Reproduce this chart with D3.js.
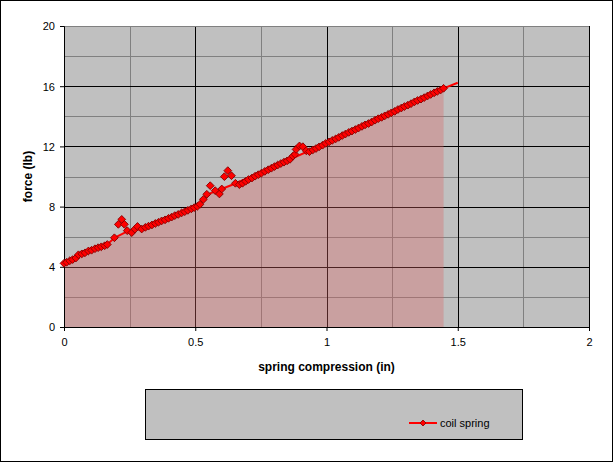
<!DOCTYPE html>
<html>
<head>
<meta charset="utf-8">
<script src="https://cdn.jsdelivr.net/npm/d3@7"></script>
<style>
  html, body { margin: 0; padding: 0; background: #fff; }
  svg { display: block; font-family: Arial, "Liberation Sans", sans-serif; }
</style>
</head>
<body>
<svg id="chart" width="613" height="462"></svg>
<script>
// ---- data ----
const compression = [
  0.000, 0.010, 0.022, 0.033, 0.045, 0.055, 0.068, 0.080, 0.093, 0.105,
  0.118, 0.130, 0.142, 0.155, 0.165, 0.192, 0.207, 0.220, 0.230, 0.241,
  0.258, 0.270, 0.280, 0.296, 0.310, 0.322, 0.335, 0.348, 0.360, 0.372,
  0.385, 0.398, 0.410, 0.422, 0.435, 0.448, 0.460, 0.472, 0.485, 0.496,
  0.508, 0.518, 0.531, 0.544, 0.557, 0.576, 0.592, 0.601, 0.611, 0.624,
  0.638, 0.653, 0.668, 0.680, 0.692, 0.703, 0.716, 0.728, 0.740, 0.752,
  0.765, 0.778, 0.790, 0.802, 0.814, 0.826, 0.838, 0.850, 0.861, 0.872,
  0.880, 0.884, 0.897, 0.910, 0.923, 0.935, 0.948, 0.960, 0.972, 0.985,
  0.997, 1.010, 1.022, 1.035, 1.047, 1.060, 1.072, 1.085, 1.097, 1.110,
  1.122, 1.135, 1.147, 1.160, 1.172, 1.185, 1.197, 1.210, 1.222, 1.235,
  1.247, 1.260, 1.272, 1.285, 1.297, 1.310, 1.322, 1.335, 1.347, 1.360,
  1.372, 1.385, 1.397, 1.410, 1.422, 1.435, 1.446
];
const force = [
  4.23, 4.30, 4.40, 4.48, 4.58, 4.80, 4.86, 4.93, 5.05, 5.10,
  5.20, 5.27, 5.33, 5.40, 5.48, 5.93, 6.82, 7.15, 6.82, 6.40,
  6.27, 6.50, 6.68, 6.51, 6.62, 6.70, 6.78, 6.88, 6.96, 7.05,
  7.12, 7.22, 7.30, 7.40, 7.48, 7.58, 7.66, 7.75, 7.85, 7.93,
  8.02, 8.15, 8.48, 8.82, 9.39, 9.06, 8.84, 9.17, 9.99, 10.39,
  10.05, 9.55, 9.46, 9.55, 9.68, 9.80, 9.90, 10.02, 10.12, 10.22,
  10.34, 10.45, 10.55, 10.66, 10.76, 10.86, 10.95, 11.04, 11.14, 11.35,
  11.47, 11.80, 12.03, 11.98, 11.71, 11.65, 11.77, 11.86, 11.97, 12.08,
  12.20, 12.30, 12.40, 12.50, 12.60, 12.72, 12.82, 12.93, 13.02, 13.12,
  13.22, 13.33, 13.43, 13.52, 13.62, 13.74, 13.84, 13.93, 14.03, 14.13,
  14.23, 14.33, 14.45, 14.55, 14.65, 14.74, 14.84, 14.96, 15.05, 15.14,
  15.24, 15.35, 15.45, 15.56, 15.65, 15.75, 15.86
];
// smoothed line series (drawn under the markers, extends to 1.5)
const lineX = [0, 0.165, 0.192, 0.241, 0.296, 0.508, 0.531, 0.557, 0.651, 0.861, 0.923, 0.935, 1.446, 1.5];
const lineY = [4.23, 5.48, 5.93, 6.35, 6.51, 8.02, 8.48, 8.88, 9.52, 11.14, 11.63, 11.65, 15.86, 16.23];
// area series (ends at 1.446)
const areaX = [0, 0.165, 0.192, 0.241, 0.296, 0.508, 0.531, 0.557, 0.651, 0.861, 0.923, 0.935, 1.446];
const areaY = [4.23, 5.48, 5.93, 6.35, 6.51, 8.02, 8.48, 8.88, 9.52, 11.14, 11.63, 11.65, 15.86];

const xTicks = [0, 0.5, 1, 1.5, 2];
const xMinor = [0.25, 0.75, 1.25, 1.75];
const yTicks = [0, 4, 8, 12, 16, 20];
const yMinor = [2, 6, 10, 14, 18];
const seriesName = "coil spring";
const xTitle = "spring compression (in)";
const yTitle = "force (lb)";

// ---- layout ----
const W = 613, H = 462;
const plot = { left: 64, right: 589, top: 26, bottom: 327 };
const svg = d3.select("#chart");

svg.append("rect").attr("x", 0.5).attr("y", 0.5).attr("width", W - 1).attr("height", H - 1)
  .attr("fill", "#fff").attr("stroke", "#000").attr("stroke-width", 1);

const x = d3.scaleLinear().domain([0, 2]).range([plot.left, plot.right]);
const y = d3.scaleLinear().domain([0, 20]).range([plot.bottom, plot.top]);

// plot background
svg.append("rect").attr("x", plot.left).attr("y", plot.top)
  .attr("width", plot.right - plot.left).attr("height", plot.bottom - plot.top)
  .attr("fill", "#C0C0C0");

const g = svg.append("g");
// minor gridlines
g.selectAll(".hmin").data(yMinor).join("line")
  .attr("x1", plot.left).attr("x2", plot.right)
  .attr("y1", d => Math.round(y(d)) + 0.5).attr("y2", d => Math.round(y(d)) + 0.5)
  .attr("stroke", "#808080").attr("stroke-width", 1);
g.selectAll(".vmin").data(xMinor).join("line")
  .attr("y1", plot.top).attr("y2", plot.bottom)
  .attr("x1", d => Math.round(x(d)) + 0.5).attr("x2", d => Math.round(x(d)) + 0.5)
  .attr("stroke", "#808080").attr("stroke-width", 1);
// major gridlines
g.selectAll(".hmaj").data(yTicks.filter(d => d > 0 && d < 20)).join("line")
  .attr("x1", plot.left).attr("x2", plot.right)
  .attr("y1", d => Math.round(y(d)) + 0.5).attr("y2", d => Math.round(y(d)) + 0.5)
  .attr("stroke", "#000").attr("stroke-width", 1);
g.selectAll(".vmaj").data(xTicks.filter(d => d > 0)).join("line")
  .attr("y1", plot.top).attr("y2", plot.bottom)
  .attr("x1", d => Math.round(x(d)) + 0.5).attr("x2", d => Math.round(x(d)) + 0.5)
  .attr("stroke", "#000").attr("stroke-width", 1);
// top border (gray)
g.append("line").attr("x1", plot.left).attr("x2", plot.right)
  .attr("y1", plot.top + 0.5).attr("y2", plot.top + 0.5)
  .attr("stroke", "#808080");

// area
const areaPts = areaX.map((d, i) => [d, areaY[i]]);
svg.append("path").datum(areaPts)
  .attr("d", d3.area().x(d => x(d[0])).y0(y(0)).y1(d => y(d[1])))
  .attr("fill", "rgb(218,101,101)").attr("fill-opacity", 0.35);

// axes
const xAxis = svg.append("g").attr("transform", `translate(0,${plot.bottom})`)
  .call(d3.axisBottom(x).tickValues(xTicks).tickSize(4).tickFormat(d3.format("")));
const yAxis = svg.append("g").attr("transform", `translate(${plot.left},0)`)
  .call(d3.axisLeft(y).tickValues(yTicks).tickSize(4).tickFormat(d3.format("")));
[xAxis, yAxis].forEach(a => {
  a.select(".domain").attr("stroke", "#000");
  a.selectAll(".tick line").attr("stroke", "#000");
  a.selectAll("text").attr("fill", "#000").attr("font-size", 11)
    .attr("font-family", "Arial, 'Liberation Sans', sans-serif");
});
xAxis.selectAll("text").attr("dy", null).attr("y", 19);
yAxis.selectAll("text").attr("x", -9).attr("dy", "0.35em");

// line series
const linePts = lineX.map((d, i) => [d, lineY[i]]);
svg.append("path").datum(linePts)
  .attr("d", d3.line().x(d => x(d[0])).y(d => y(d[1])))
  .attr("fill", "none").attr("stroke", "#FF0000").attr("stroke-width", 2);

// markers
const pts = compression.map((d, i) => [d, force[i]]);
const diamond = d3.symbol().type(d3.symbolSquare).size(30)();
svg.append("g").selectAll("path").data(pts).join("path")
  .attr("d", diamond)
  .attr("transform", d => `translate(${x(d[0])},${y(d[1])}) rotate(45)`)
  .attr("fill", "#FF0000").attr("stroke", "#8B0000").attr("stroke-width", 0.9);

// axis titles
svg.append("text").attr("x", (plot.left + plot.right) / 2).attr("y", 371)
  .attr("text-anchor", "middle").attr("font-size", 12).attr("font-weight", "bold")
  .attr("fill", "#000").text(xTitle);
svg.append("text").attr("transform", `translate(32,${(plot.top + plot.bottom) / 2}) rotate(-90)`)
  .attr("text-anchor", "middle").attr("font-size", 12).attr("font-weight", "bold")
  .attr("fill", "#000").text(yTitle);

// legend
const lg = svg.append("g");
lg.append("rect").attr("x", 145.5).attr("y", 389.5).attr("width", 377).attr("height", 50)
  .attr("fill", "#C0C0C0").attr("stroke", "#000").attr("stroke-width", 1);
lg.append("line").attr("x1", 409).attr("x2", 437).attr("y1", 423).attr("y2", 423)
  .attr("stroke", "#FF0000").attr("stroke-width", 2);
lg.append("path").attr("d", d3.symbol().type(d3.symbolSquare).size(18)())
  .attr("transform", "translate(423,423) rotate(45)")
  .attr("fill", "#FF0000").attr("stroke", "#8B0000").attr("stroke-width", 0.8);
lg.append("text").attr("x", 440).attr("y", 427).attr("font-size", 11)
  .attr("fill", "#000").text(seriesName);
</script>
</body>
</html>
